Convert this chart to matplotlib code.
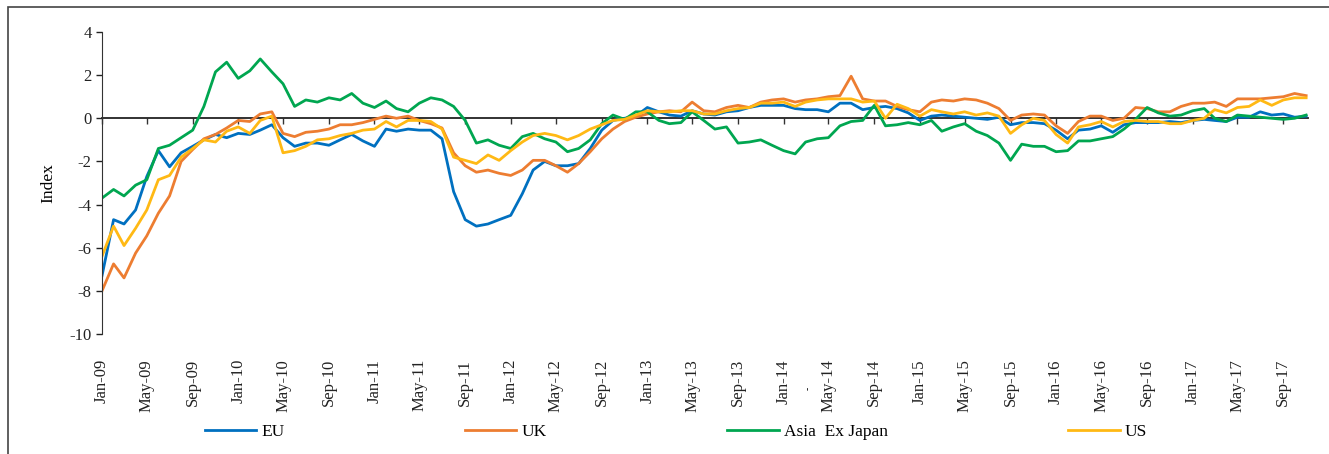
import numpy as np
import pandas as pd
import matplotlib
matplotlib.use('Agg')
import matplotlib.pyplot as plt
import matplotlib.dates as mdates
from matplotlib.patches import Rectangle

plt.rcParams['font.family'] = ['Liberation Serif', 'DejaVu Serif']
plt.rcParams['axes.unicode_minus'] = False

# fechas mensuales Jan-09 .. Nov-17
fechas = pd.date_range('2009-01-01', periods=107, freq='MS')

eu = [-7.3, -4.7, -4.9, -4.25, -2.7, -1.5, -2.25, -1.6, -1.3, -1.0, -0.75, -0.9,
      -0.7, -0.75, -0.55, -0.3, -0.9, -1.3, -1.15, -1.15, -1.25, -1.0, -0.75, -1.05,
      -1.3, -0.5, -0.6, -0.5, -0.55, -0.55, -0.95, -3.4, -4.7, -5.0, -4.9, -4.7,
      -4.5, -3.5, -2.4, -2.0, -2.2, -2.2, -2.1, -1.4, -0.55, -0.1, 0.0, 0.1,
      0.5, 0.3, 0.15, 0.1, 0.35, 0.2, 0.15, 0.3, 0.35, 0.5, 0.6, 0.6,
      0.6, 0.45, 0.4, 0.4, 0.3, 0.7, 0.7, 0.4, 0.5, 0.55, 0.45, 0.25,
      -0.1, 0.1, 0.15, 0.1, 0.05, 0.0, -0.05, 0.05, -0.3, -0.2, -0.2, -0.25,
      -0.55, -0.95, -0.55, -0.5, -0.35, -0.65, -0.3, -0.2, -0.2, -0.2, -0.15, -0.2,
      -0.1, -0.05, -0.1, -0.15, 0.05, 0.05, 0.3, 0.15, 0.2, 0.05, 0.1]

uk = [-8.0, -6.75, -7.4, -6.25, -5.45, -4.4, -3.6, -2.0, -1.45, -0.95, -0.75, -0.45,
      -0.1, -0.15, 0.2, 0.3, -0.7, -0.85, -0.65, -0.6, -0.5, -0.3, -0.3, -0.2,
      -0.05, 0.1, 0.0, 0.1, -0.1, -0.25, -0.45, -1.6, -2.2, -2.5, -2.4, -2.55,
      -2.65, -2.4, -1.95, -1.95, -2.2, -2.5, -2.1, -1.55, -0.95, -0.5, -0.15, 0.05,
      0.2, 0.3, 0.35, 0.3, 0.75, 0.35, 0.3, 0.5, 0.6, 0.5, 0.75, 0.85,
      0.9, 0.75, 0.85, 0.9, 1.0, 1.05, 1.95, 0.9, 0.8, 0.8, 0.55, 0.4,
      0.3, 0.75, 0.85, 0.8, 0.9, 0.85, 0.7, 0.45, -0.1, 0.15, 0.2, 0.15,
      -0.35, -0.7, -0.15, 0.1, 0.1, -0.1, 0.0, 0.5, 0.45, 0.3, 0.3, 0.55,
      0.7, 0.7, 0.75, 0.55, 0.9, 0.9, 0.9, 0.95, 1.0, 1.15, 1.05]

asia = [-3.7, -3.3, -3.6, -3.1, -2.85, -1.4, -1.25, -0.9, -0.55, 0.55, 2.15, 2.6,
        1.85, 2.2, 2.75, 2.15, 1.6, 0.55, 0.85, 0.75, 0.95, 0.85, 1.15, 0.7,
        0.5, 0.8, 0.45, 0.3, 0.7, 0.95, 0.85, 0.55, -0.1, -1.15, -1.0, -1.25,
        -1.4, -0.85, -0.7, -0.95, -1.1, -1.55, -1.4, -1.0, -0.25, 0.15, -0.05, 0.3,
        0.3, -0.1, -0.25, -0.2, 0.3, -0.1, -0.5, -0.4, -1.15, -1.1, -1.0, -1.25,
        -1.5, -1.65, -1.1, -0.95, -0.9, -0.35, -0.15, -0.1, 0.6, -0.35, -0.3, -0.2,
        -0.3, -0.1, -0.6, -0.4, -0.25, -0.6, -0.8, -1.15, -1.95, -1.2, -1.3, -1.3,
        -1.55, -1.5, -1.05, -1.05, -0.95, -0.85, -0.5, -0.05, 0.5, 0.25, 0.1, 0.15,
        0.35, 0.45, 0.0, -0.15, 0.15, 0.1, 0.05, 0.0, -0.05, 0.0, 0.15]

us = [-6.4, -5.0, -5.9, -5.1, -4.25, -2.85, -2.65, -1.8, -1.4, -1.0, -1.1, -0.6,
      -0.4, -0.7, -0.1, 0.1, -1.6, -1.5, -1.3, -1.0, -0.95, -0.8, -0.7, -0.55,
      -0.5, -0.15, -0.4, -0.1, -0.1, -0.15, -0.5, -1.8, -1.95, -2.1, -1.7, -1.95,
      -1.5, -1.1, -0.8, -0.7, -0.8, -1.0, -0.8, -0.5, -0.3, -0.1, -0.05, 0.15,
      0.35, 0.3, 0.3, 0.35, 0.35, 0.2, 0.2, 0.35, 0.45, 0.5, 0.7, 0.7,
      0.75, 0.55, 0.75, 0.85, 0.9, 0.9, 0.9, 0.75, 0.8, 0.0, 0.65, 0.45,
      0.1, 0.4, 0.3, 0.2, 0.3, 0.15, 0.25, 0.1, -0.7, -0.3, 0.0, -0.1,
      -0.75, -1.15, -0.4, -0.3, -0.15, -0.4, -0.15, -0.1, -0.15, -0.15, -0.25, -0.25,
      -0.1, 0.0, 0.4, 0.25, 0.5, 0.55, 0.85, 0.6, 0.85, 0.95, 0.95]

series = ['EU', 'UK', 'Asia  Ex Japan', 'US']
colores = ['#0070C0', '#ED7D31', '#00A650', '#FFB914']

fig = plt.figure(figsize=(13.29, 4.54), dpi=100)
ax = fig.add_axes([102/1329, 1-334/454, (1308-102)/1329, (334-32)/454])

for nombre, valores, c in zip(series, [eu, uk, asia, us], colores):
    ax.plot(fechas, valores, color=c, lw=2.0, label=nombre)

ax.set_ylim(-10, 4)
ax.set_yticks(np.arange(-10, 5, 2))
ax.set_xlim(pd.Timestamp('2009-01-01'), pd.Timestamp('2017-11-06'))

# eje x: etiquetas abajo, marcas sobre la linea del cero
ax.xaxis.set_major_locator(mdates.MonthLocator(bymonth=[1, 5, 9]))
ax.xaxis.set_major_formatter(mdates.DateFormatter('%b-%y'))
ax.tick_params(axis='x', length=0, pad=18, labelsize=12, rotation=90, colors='#222222')
ax.tick_params(axis='y', length=4, width=1, direction='out', labelsize=12, colors='#222222')
for s in ['top', 'right', 'bottom']:
    ax.spines[s].set_visible(False)
ax.spines['left'].set_color('#333333')

eje0 = ax.secondary_xaxis(0, transform=ax.transData)
eje0.xaxis.set_major_locator(mdates.MonthLocator(bymonth=[1, 5, 9]))
eje0.tick_params(axis='x', length=4, width=1, labelbottom=False, color='#333333')
eje0.spines['bottom'].set_color('#222222')
eje0.spines['bottom'].set_linewidth(1.3)

ax.set_ylabel('Index', fontsize=12.5)
ax.yaxis.set_label_coords(-0.038, 0.5)

fig.text(808/1329, 1-388/454, '-', fontsize=7, rotation=90, ha='center', va='center')

fig.legend(loc='center left', bbox_to_anchor=(205/1329, 1-432/454), ncol=4,
           frameon=False, fontsize=12.5, handlelength=2.95, handletextpad=0.3,
           columnspacing=10.4, borderaxespad=0, borderpad=0)

fig.add_artist(Rectangle((8/1329, -0.1), 1.2, 1.1 - 7/454, transform=fig.transFigure,
                         fill=False, edgecolor='#444444', lw=1.2))

fig.savefig('out.png', dpi=100)
